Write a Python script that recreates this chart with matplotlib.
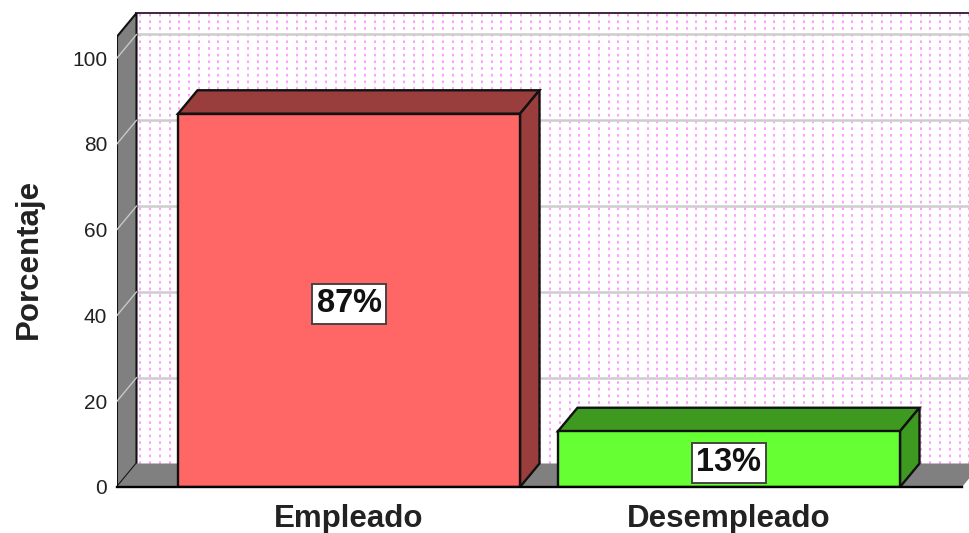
import matplotlib
matplotlib.use("Agg")
import matplotlib.pyplot as plt
from matplotlib.patches import Polygon
import numpy as np

categories = ["Empleado", "Desempleado"]
values = [87, 13]
labels = ["87%", "13%"]
y_ticks = [0, 20, 40, 60, 80, 100]

face = ["#FF6666", "#66FF33"]
dark = ["#993D3D", "#3D991F"]

W, H = 969, 533
L, R, B = 117, 969, 487
PX_Y = 4.29     # pixels per percent
PX_X = 380.0    # pixels per category
DX, DY = 19.5 / PX_X, 23.5 / PX_Y
BW = 342 / PX_X

plt.rcParams["font.family"] = ["Liberation Sans", "DejaVu Sans"]
fig = plt.figure(figsize=(W / 100, H / 100), dpi=100)
ax = fig.add_axes([L / W, (H - B) / H, (R - L) / W, B / H])
ax.set_xlim((L - 349) / PX_X, (R - 349) / PX_X)
ax.set_ylim(0, B / PX_Y)
for s in ax.spines.values():
    s.set_visible(False)
ax.patch.set_alpha(0)

x0 = (L - 349) / PX_X
x1 = (962 - 349) / PX_X
top = 105.0

# back wall dotted pattern
for xp in np.arange(140.5, 985, 9.75):
    xv = (xp - 349) / PX_X
    ax.plot([xv, xv], [DY, top + DY], color="#FF99FF", lw=1.3,
            dashes=(1.5, 2.2), zorder=1)

# gridlines on wall
for t in y_ticks[1:]:
    ax.plot([x0 + DX, x1 + DX], [t + DY, t + DY], color="#CDCDCD", lw=1.8, zorder=2)

# wall top line
ax.plot([x0 + DX, x1 + DX], [top + DY, top + DY], color="#3a2a3a", lw=1.4, zorder=3)

# left wall
ax.add_patch(Polygon([(x0, 0), (x0 + DX, DY), (x0 + DX, top + DY), (x0, top)],
                     fc="#808080", ec="#111111", lw=1.5, zorder=3))
for t in y_ticks[1:]:
    ax.plot([x0, x0 + DX], [t, t + DY], color="#C8C8C8", lw=1.0, zorder=3.5)

# floor
ax.add_patch(Polygon([(x0, 0), (x0 + DX, DY), (x1 + DX, DY), (x1, 0)],
                     fc="#808080", ec="none", zorder=3))
ax.plot([x0, x1], [0, 0], color="black", lw=1.7, zorder=6, clip_on=False)

# bars
for i, v in enumerate(values):
    l, r = i - BW / 2, i + BW / 2
    ax.add_patch(Polygon([(l, v), (l + DX, v + DY), (r + DX, v + DY), (r, v)],
                         fc=dark[i], ec="#111111", lw=1.7, zorder=4))
    ax.add_patch(Polygon([(r, 0), (r + DX, DY), (r + DX, v + DY), (r, v)],
                         fc=dark[i], ec="#111111", lw=1.7, zorder=4))
    ax.bar(i, v, width=BW, color=face[i], edgecolor="#111111", lw=1.7, zorder=5)
    ax.text(i, v / 2 if i == 0 else 6.5, labels[i], ha="center", va="center_baseline",
            fontsize=23.5, fontweight="bold", color="#111111", zorder=7,
            bbox=dict(boxstyle="square,pad=0.14", fc="white", ec="#444444", lw=1.4))

ax.set_xticks(range(len(categories)), categories, fontsize=22.5, fontweight="bold", color="#222222")
ax.set_yticks(y_ticks, [str(t) for t in y_ticks], fontsize=15, color="#222222")
ax.tick_params(axis="x", length=0, pad=12)
ax.tick_params(axis="y", length=0, pad=7)
fig.text(29 / W, 1 - 259 / H, "Porcentaje", rotation=90, ha="center", va="center",
         fontsize=22.5, fontweight="bold", color="#222222")
fig.savefig("out.png", dpi=100)
